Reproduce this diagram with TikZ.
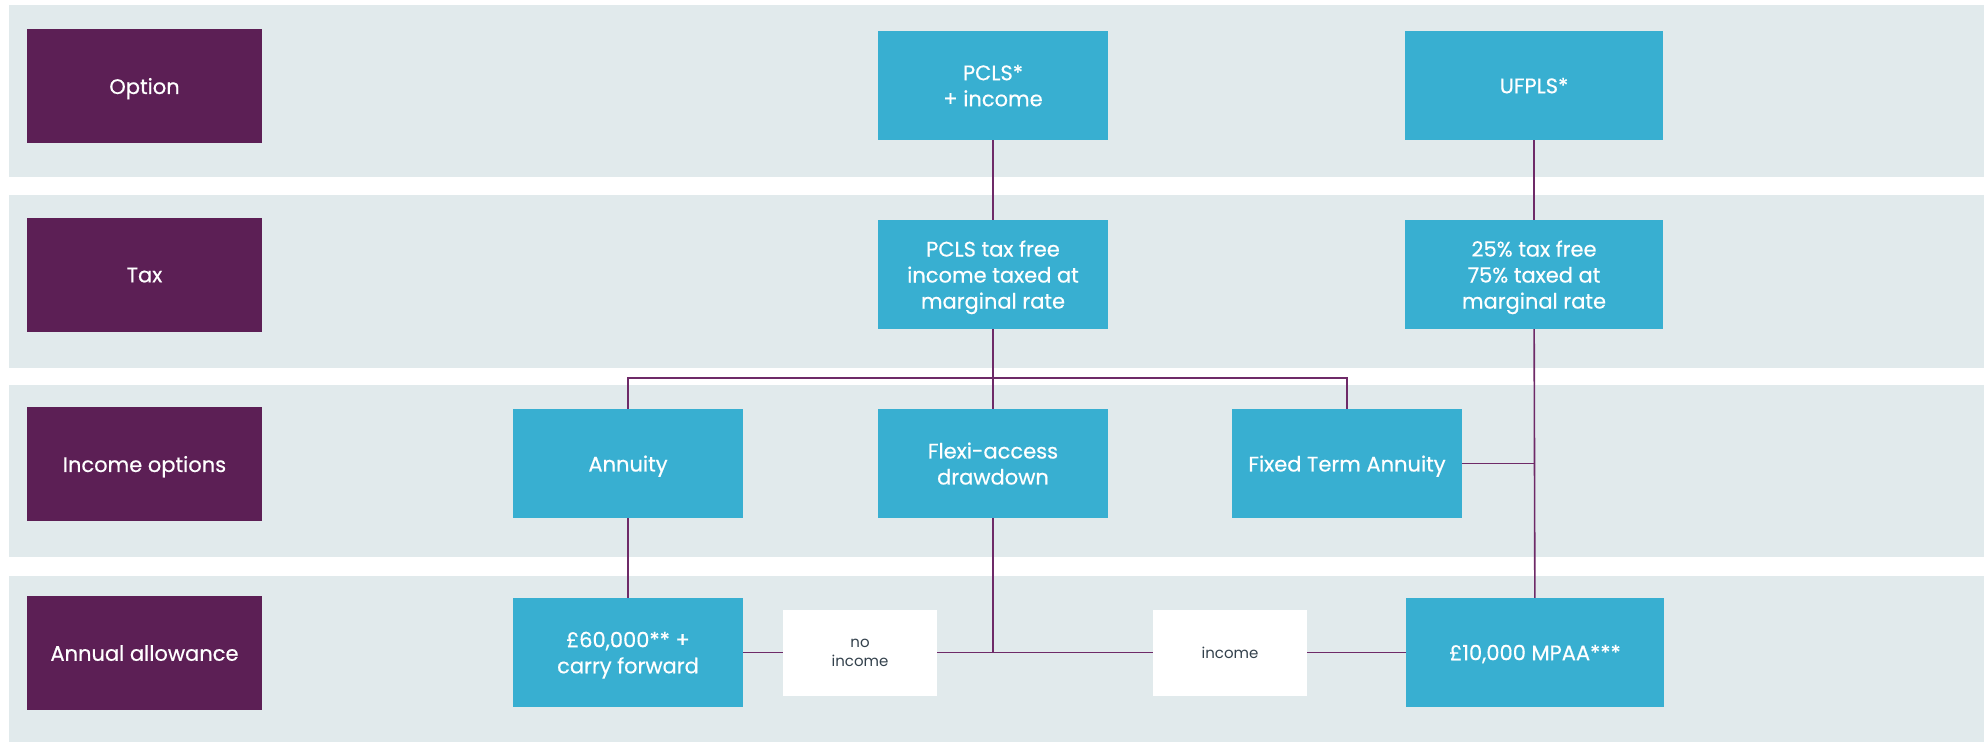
\documentclass[tikz,border=0pt]{standalone}
\usepackage{fontspec}
\setmainfont{Poppins}
\newfontfamily\boxfont{Poppins}[FakeBold=0.5]
\usepackage{xcolor}
\usepackage{tikz}
\definecolor{bandgrey}{HTML}{E1EAEC}
\definecolor{plum}{HTML}{5C1F55}
\definecolor{sky}{HTML}{38AFD1}
\definecolor{plumline}{HTML}{6E2A68}
\definecolor{slate}{HTML}{33414C}
\tikzstyle{band}=[fill=bandgrey,draw=none]
\tikzstyle{rowlabel}=[rectangle,fill=plum,text=white,minimum width=235pt,minimum height=114pt,inner sep=0pt,text depth=-8pt,font=\boxfont\fontsize{21}{26}\selectfont]
\tikzstyle{flowbox}=[rectangle,fill=sky,text=white,minimum width=230pt,minimum height=109pt,inner sep=0pt,text depth=-8pt,align=center,font=\boxfont\fontsize{21}{26}\selectfont]
\tikzstyle{note}=[rectangle,fill=white,text=slate,minimum width=154pt,minimum height=86pt,inner sep=0pt,text depth=-3pt,align=center,font=\fontsize{15}{19}\selectfont]
\tikzstyle{link}=[draw=plumline,line width=1.6pt]

\begin{document}
\begin{tikzpicture}[x=1pt,y=-1pt]
        \useasboundingbox (0,0) rectangle (1984,742);
        % rows
        \fill[band] (9,5) rectangle (1984,177);
        \fill[band] (9,195) rectangle (1984,368);
        \fill[band] (9,385) rectangle (1984,557);
        \fill[band] (9,576) rectangle (1984,742);

        \node at (144.5,86) [rowlabel] (lopt) {Option};
        \node at (144.5,275) [rowlabel] (ltax) {Tax};
        \node at (144.5,464) [rowlabel] (linc) {Income options};
        \node at (144.5,653) [rowlabel] (laa) {Annual allowance};

        \node at (993,85.5) [flowbox] (pcls) {PCLS*\\+ income};
        \node at (1534,85.5) [flowbox,minimum width=258pt] (ufpls) {UFPLS*};
        \node at (993,274.5) [flowbox] (pclstax) {PCLS tax free\\income taxed at\\marginal rate};
        \node at (1534,274.5) [flowbox,minimum width=258pt] (ufplstax) {25\% tax free\\75\% taxed at\\marginal rate};
        \node at (628,463.5) [flowbox] (annuity) {Annuity};
        \node at (993,463.5) [flowbox] (fad) {Flexi-access\\drawdown};
        \node at (1347,463.5) [flowbox] (fta) {Fixed Term Annuity};
        \node at (628,652.5) [flowbox] (aa) {£60,000** +\\carry forward};
        \node at (1535,652.5) [flowbox,minimum width=258pt] (mpaa) {£10,000 MPAA***};
        \node at (860,652.5) [note] (noinc) {no\\income};
        \node at (1230,652.5) [note] (inc) {income};
        \coordinate (bus) at (993,378);

        % links
        \draw [link] (pcls) -- (pclstax);
        \draw [link] (pclstax) -- (fad);
        \draw [link] (annuity.north) |- (bus) -| (fta.north);
        \draw [link] (annuity) -- (aa);
        \draw [link] (aa) -- (noinc);
        \draw [link] (noinc) -- (inc);
        \draw [link] (fad.south) -- (fad.south |- noinc.east);
        \draw [link] (inc) -- (mpaa);
        \draw [link] (ufpls) -- (ufplstax);
        \draw [link] (ufplstax) -- (mpaa);
        \draw [link] (fta.east) -- (fta.east -| ufplstax.south);
      \end{tikzpicture}
\end{document}
